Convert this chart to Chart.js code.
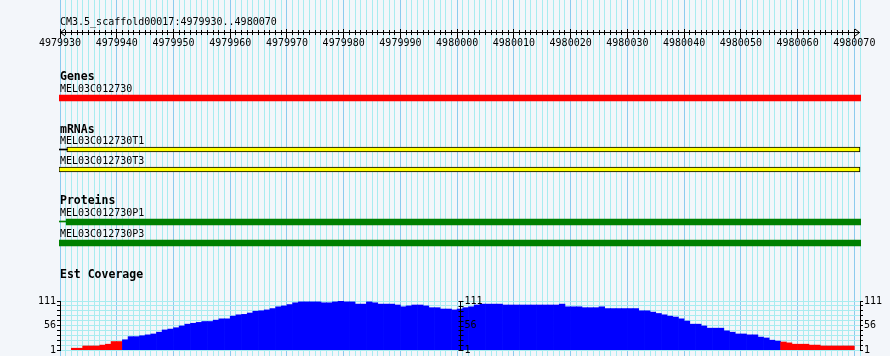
<!DOCTYPE html>
<html><head><meta charset="utf-8">
<script src="https://cdn.jsdelivr.net/npm/chart.js@4.4.1/dist/chart.umd.min.js"></script>
<style>
html,body{margin:0;padding:0;background:#f3f6fa;overflow:hidden}
#wrap{position:relative;width:890px;height:356px}
#tracks{position:absolute;left:0;top:0}
#cov{position:absolute;left:0;top:290px}
</style></head><body>
<div id="wrap"><canvas id="tracks" width="890" height="356"></canvas><canvas id="cov" width="890" height="80"></canvas></div>
<script>
// ---------- data ----------
const refName = 'CM3.5_scaffold00017';
const refRange = [4979930, 4980070];
const rulerTicks = [4979930, 4979940, 4979950, 4979960, 4979970, 4979980, 4979990, 4980000,
                    4980010, 4980020, 4980030, 4980040, 4980050, 4980060, 4980070];
const trackTitles = ['Genes', 'mRNAs', 'Proteins', 'Est Coverage'];
const featureNames = ['MEL03C012730', 'MEL03C012730T1', 'MEL03C012730T3', 'MEL03C012730P1', 'MEL03C012730P3'];
const featureTrack = ['Genes', 'mRNAs', 'mRNAs', 'Proteins', 'Proteins'];
const featureStart = [4979900, 4979931.2, 4979929.8, 4979931.1, 4979929.8];
const featureEnd   = [4980100, 4980071, 4980071, 4980071.2, 4980071.2];
// thin leading segments (UTR / intron line) before T1 and P1
const leaderFeature = ['MEL03C012730T1', 'MEL03C012730P1'];
const leaderStart = [4979929.8, 4979929.8];
const leaderEnd   = [4979931.3, 4979931.2];
// EST coverage, one value per base from coverageStart
const coverageStart = 4979932;
const coverageValues = [
  5, 5, 10, 10, 10, 12, 14, 20, 20, 24,
  31, 31, 33, 35, 37, 41, 46, 48, 51, 55,
  59, 61, 63, 65, 65, 68, 71, 71, 77, 80,
  81, 84, 88, 89, 91, 94, 98, 100, 103, 107,
  109, 109, 109, 109, 107, 107, 109, 111, 109, 109,
  104, 104, 109, 107, 104, 104, 104, 102, 98, 100,
  102, 102, 100, 96, 96, 93, 93, 91, 93, 96,
  98, 102, 104, 104, 104, 104, 102, 102, 102, 102,
  102, 102, 102, 102, 102, 102, 104, 98, 98, 98,
  96, 96, 96, 98, 94, 94, 94, 94, 94, 94,
  89, 89, 86, 83, 80, 77, 75, 71, 66, 59,
  59, 55, 50, 50, 50, 44, 41, 37, 37, 35,
  35, 30, 28, 23, 21, 19, 17, 14, 14, 14,
  12, 12, 10, 10, 10, 10, 10, 10
];
const coverageTickLabels = [1, 56, 111];
const coverageRange = [1, 111];
const lowCoverage = 20;          // values at or below are drawn red
const splitAxisAt = 4980000.5;   // second panel axis

// ---------- layout / style (not data) ----------
const viewMin = refRange[0], viewMax = refRange[1] + 1;
const bg = '#f3f6fa', gridMinor = '#a8ecf0', gridMajor = '#8ccbee';
const mono = '"DejaVu Sans Mono", monospace';
const titleBaseline = {Genes: 80, mRNAs: 133, Proteins: 204, 'Est Coverage': 278};
const rowLayout = {
  'MEL03C012730':   {label: 92,  bar: 98,    thick: 6},
  'MEL03C012730T1': {label: 144, bar: 149.5, thick: 5},
  'MEL03C012730T3': {label: 164, bar: 169.5, thick: 5},
  'MEL03C012730P1': {label: 216, bar: 222,   thick: 6},
  'MEL03C012730P3': {label: 237, bar: 243,   thick: 6}
};
const trackStyle = {
  Genes:    {fill: '#ff0000', border: '#ff0000', bw: 0},
  mRNAs:    {fill: '#ffff00', border: '#000000', bw: 1},
  Proteins: {fill: '#008000', border: '#008000', bw: 0}
};

const backdrop = {
  id: 'backdrop',
  beforeDraw(chart) {
    const ctx = chart.ctx, xs = chart.scales.x;
    const px = v => Math.floor(xs.getPixelForValue(v) + 1e-6) + 0.5;
    ctx.save();
    ctx.fillStyle = bg;
    ctx.fillRect(0, 0, chart.width, chart.height);
    ctx.lineWidth = 1;
    for (let v = viewMin; v <= viewMax; v++) {
      ctx.strokeStyle = (v % 10 === 0) ? gridMajor : gridMinor;
      ctx.beginPath(); ctx.moveTo(px(v), 0); ctx.lineTo(px(v), chart.height); ctx.stroke();
    }
    // ruler
    const l = xs.getPixelForValue(viewMin), r = xs.getPixelForValue(viewMax), y0 = 32.5;
    ctx.strokeStyle = '#000';
    ctx.beginPath(); ctx.moveTo(l, y0); ctx.lineTo(r, y0); ctx.stroke();
    ctx.beginPath(); ctx.moveTo(l + 5, y0 - 3.5); ctx.lineTo(l + 0.5, y0); ctx.lineTo(l + 5, y0 + 3.5); ctx.stroke();
    ctx.beginPath(); ctx.moveTo(r - 5, y0 - 3.5); ctx.lineTo(r - 0.5, y0); ctx.lineTo(r - 5, y0 + 3.5); ctx.stroke();
    for (let v = viewMin + 1; v < refRange[1]; v++) {
      if (rulerTicks.includes(v)) continue;
      ctx.beginPath(); ctx.moveTo(px(v), 30); ctx.lineTo(px(v), 35); ctx.stroke();
    }
    ctx.fillStyle = '#000';
    ctx.font = '10px ' + mono;
    ctx.textAlign = 'center'; ctx.textBaseline = 'alphabetic';
    rulerTicks.forEach(v => {
      ctx.beginPath(); ctx.moveTo(px(v), 29); ctx.lineTo(px(v), 38); ctx.stroke();
      ctx.fillText(String(v), xs.getPixelForValue(v), 46);
    });
    ctx.textAlign = 'left';
    ctx.fillText(refName + ':' + refRange[0] + '..' + refRange[1], l, 25);
    // track titles
    ctx.font = 'bold 11.5px ' + mono;
    trackTitles.forEach(t => ctx.fillText(t, l, titleBaseline[t]));
    ctx.font = '10px ' + mono;
    featureNames.forEach(n => ctx.fillText(n, l, rowLayout[n].label));
    ctx.restore();
  }
};

const featureSets = featureNames.map((n, i) => {
  const st = trackStyle[featureTrack[i]];
  return {
    data: [{x: [featureStart[i], featureEnd[i]], y: rowLayout[n].bar}],
    backgroundColor: st.fill, borderColor: st.border, borderWidth: st.bw,
    borderSkipped: false, barThickness: rowLayout[n].thick, grouped: false,
    clip: {left: 1, right: 1, top: false, bottom: false}
  };
});
const leaderSets = leaderFeature.map((n, i) => {
  const st = trackStyle[featureTrack[featureNames.indexOf(n)]];
  return {
    data: [{x: [leaderStart[i], leaderEnd[i]], y: Math.floor(rowLayout[n].bar) + 0.5 - (n.endsWith('P1') ? 1 : 0)}],
    backgroundColor: st.border, borderWidth: 0, barThickness: 1, grouped: false,
    clip: {left: 1, right: 1, top: false, bottom: false}
  };
});

new Chart(document.getElementById('tracks'), {
  type: 'bar',
  data: {datasets: [...leaderSets, ...featureSets]},
  options: {
    indexAxis: 'y', responsive: false, animation: false, devicePixelRatio: 1, events: [],
    layout: {padding: {left: 60, right: 30, top: 0, bottom: 0}},
    plugins: {legend: {display: false}, tooltip: {enabled: false}},
    scales: {
      x: {type: 'linear', min: viewMin, max: viewMax, display: false, offset: false},
      y: {type: 'linear', min: 0, max: 356, reverse: true, display: false, offset: false}
    }
  },
  plugins: [backdrop]
});

// ---------- coverage ----------
const covTicks = [];
for (let v = coverageRange[0]; v <= coverageRange[1]; v += 11) covTicks.push(v);
const axisCommon = {
  type: 'linear', min: coverageRange[0], max: coverageRange[1],
  afterBuildTicks: s => { s.ticks = covTicks.map(v => ({value: v})); },
  ticks: {autoSkip: false, padding: 1, color: '#000', font: {family: 'DejaVu Sans Mono', size: 10},
          callback: v => coverageTickLabels.includes(v) ? String(v) : ''},
  border: {display: true, color: '#000', width: 1}
};
const midAxis = {
  id: 'midAxis',
  afterDatasetsDraw(chart) {
    const ctx = chart.ctx, xs = chart.scales.x, ys = chart.scales.y;
    const x = Math.floor(xs.getPixelForValue(splitAxisAt)) + 0.5;
    ctx.save();
    ctx.strokeStyle = '#000'; ctx.lineWidth = 1;
    ctx.beginPath(); ctx.moveTo(x, ys.getPixelForValue(coverageRange[1])); ctx.lineTo(x, ys.getPixelForValue(coverageRange[0])); ctx.stroke();
    covTicks.forEach(v => {
      const y = Math.round(ys.getPixelForValue(v)) + 0.5;
      ctx.beginPath(); ctx.moveTo(x - 2, y); ctx.lineTo(x + 3, y); ctx.stroke();
    });
    ctx.fillStyle = '#000'; ctx.font = '10px ' + mono; ctx.textAlign = 'left'; ctx.textBaseline = 'middle';
    coverageTickLabels.forEach(v => ctx.fillText(String(v), x + 4, ys.getPixelForValue(v)));
    ctx.restore();
  }
};
new Chart(document.getElementById('cov'), {
  type: 'bar',
  data: {datasets: [{
    data: coverageValues.map((v, i) => ({x: coverageStart + i + 0.5, y: v})),
    backgroundColor: c => (c.raw && c.raw.y <= lowCoverage) ? '#ff0000' : '#0000ff',
    borderWidth: 0, barPercentage: 1, categoryPercentage: 1
  }]},
  options: {
    responsive: false, animation: false, devicePixelRatio: 1, events: [],
    layout: {padding: {left: 0, right: 0, top: 11, bottom: 20}},
    plugins: {legend: {display: false}, tooltip: {enabled: false}},
    scales: {
      x: {type: 'linear', min: viewMin, max: viewMax, display: false, offset: false},
      y: Object.assign({}, axisCommon, {position: 'left', afterFit: s => { s.width = 60; },
          grid: {color: gridMinor, tickColor: '#000', tickLength: 3, lineWidth: 1}}),
      y2: Object.assign({}, axisCommon, {position: 'right', afterFit: s => { s.width = 30; },
          grid: {drawOnChartArea: false, tickColor: '#000', tickLength: 3, lineWidth: 1}})
    }
  },
  plugins: [midAxis]
});
</script>
</body></html>
